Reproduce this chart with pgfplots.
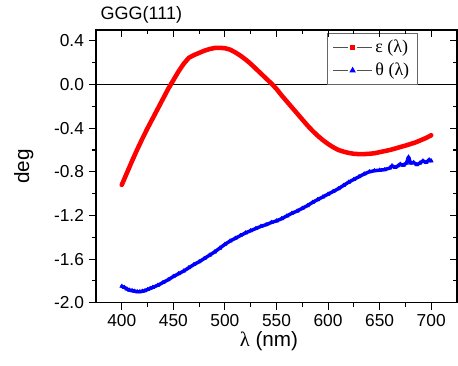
\documentclass[border=0pt]{standalone}
\usepackage{fontspec}
\setmainfont{Liberation Sans}
\newfontfamily\serif{Liberation Serif}
\usepackage{pgfplots}
\pgfplotsset{compat=1.18}
\definecolor{leggray}{RGB}{80,80,80}
\begin{document}
\begin{tikzpicture}
\useasboundingbox (-72pt,-46.75pt) rectangle (271.5pt,227pt);
\pgfplotsset{common/.style={
  scale only axis, width=270.75pt, height=204.5pt,
  xmin=375, xmax=725, ymin=-2.0, ymax=0.5,
  xtick={400,450,...,700}, minor x tick num=1,
  ytick={-2.0,-1.6,-1.2,-0.8,-0.4,0.0,0.4}, minor y tick num=1,
  axis line style={line width=0.9pt},
  major tick length=5.5pt, minor tick length=3pt,
  every tick/.style={black, line width=0.8pt},
  tick label style={font=\fontsize{13}{15}\selectfont},
  /pgf/number format/assume math mode=true,
}}
\begin{axis}[common,
  xtick pos=left, ytick pos=left, tick align=outside,
  yticklabel style={/pgf/number format/fixed, /pgf/number format/fixed zerofill, /pgf/number format/precision=1},
  xticklabel style={/pgf/number format/fixed, /pgf/number format/1000 sep={}},
  title={GGG(111)},
  title style={at={(0,1)}, anchor=base west, yshift=2pt, font=\fontsize{13.5}{15}\selectfont},
  xlabel={{\serif λ} (nm)},
  ylabel={deg},
  xlabel style={at={(axis description cs:0.479,0)}, anchor=center, yshift=-29pt, font=\fontsize{15.5}{17}\selectfont},
  ylabel style={at={(axis description cs:-0.2,0.5)}, anchor=center, font=\fontsize{15.5}{17}\selectfont},
  legend style={at={(0.891,0.989)}, anchor=north east, draw=black!60, line width=0.6pt,
    inner xsep=4pt, inner ysep=3pt, row sep=2pt, font=\serif\fontsize{13.5}{15}\selectfont, cells={anchor=west}},
]
\addplot[black, line width=0.7pt, forget plot] coordinates {(375,0) (725,0)};
\addplot[red, line width=3.4pt, line join=round, line cap=round, forget plot]
coordinates {
(400,-0.92) (405,-0.81) (410,-0.70) (415,-0.595) (420,-0.495) (425,-0.40)
(430,-0.31) (435,-0.22) (440,-0.13) (445,-0.04) (450,0.04) (455,0.12)
(460,0.19) (465,0.245) (470,0.27) (475,0.29) (480,0.31) (485,0.325)
(490,0.335) (495,0.337) (500,0.333) (505,0.32) (510,0.295) (515,0.265)
(520,0.23) (525,0.19) (530,0.145) (535,0.10) (540,0.055) (545,0.01)
(550,-0.04) (555,-0.10) (560,-0.155) (565,-0.21) (570,-0.265) (575,-0.32)
(580,-0.375) (585,-0.425) (590,-0.47) (595,-0.51) (600,-0.545) (605,-0.575)
(610,-0.60) (615,-0.615) (620,-0.627) (625,-0.635) (630,-0.638) (635,-0.638)
(640,-0.635) (645,-0.63) (650,-0.62) (655,-0.61) (660,-0.60) (665,-0.587)
(670,-0.573) (675,-0.56) (680,-0.545) (685,-0.53) (690,-0.51) (695,-0.49)
(700,-0.465)
};
\addplot[blue, line width=2.6pt, line join=round, line cap=round, mark=triangle*, mark size=1.8pt,
  mark options={line width=0.3pt}, forget plot]
coordinates {
(400,-1.85) (402.5,-1.86) (405,-1.875) (407.5,-1.885) (410,-1.89) (412.5,-1.895)
(415,-1.90) (417.5,-1.90) (420,-1.895) (422.5,-1.89) (425,-1.88) (427.5,-1.87)
(430,-1.86) (435,-1.84) (440,-1.815) (445,-1.79) (450,-1.76) (455,-1.735)
(460,-1.71) (465,-1.68) (470,-1.65) (475,-1.625) (480,-1.595) (485,-1.565)
(490,-1.535) (495,-1.50) (500,-1.465) (505,-1.435) (510,-1.41) (515,-1.385)
(520,-1.36) (525,-1.34) (530,-1.32) (535,-1.30) (540,-1.285) (545,-1.265)
(550,-1.25) (555,-1.23) (560,-1.205) (565,-1.18) (570,-1.16) (575,-1.135)
(580,-1.11) (585,-1.08) (590,-1.055) (595,-1.03) (600,-1.005) (605,-0.98)
(610,-0.955) (615,-0.925) (620,-0.895) (625,-0.87) (630,-0.845) (635,-0.82)
(640,-0.80) (645,-0.79) (650,-0.785) (655,-0.78) (660,-0.765) (662,-0.745)
(665,-0.76) (668,-0.745) (670,-0.73) (673,-0.74) (676,-0.72) (678,-0.665)
(680,-0.72) (683,-0.715) (686,-0.735) (689,-0.72) (692,-0.70) (695,-0.715)
(698,-0.69) (700,-0.70)
};
\addlegendimage{legend image code/.code={
    \draw[color=leggray, line width=0.6pt] (0cm,0cm) -- (0.4cm,0cm);
    \draw[color=leggray, line width=0.6pt] (0.64cm,0cm) -- (1.04cm,0cm);
    \fill[red] (0.52cm,0cm) +(-1.5pt,-1.5pt) rectangle +(1.5pt,1.5pt);}}
\addlegendentry{{\serif\fontsize{13.5}{15}\selectfont ε (λ)}}
\addlegendimage{legend image code/.code={
    \draw[color=leggray, line width=0.6pt] (0cm,0cm) -- (0.4cm,0cm);
    \draw[color=leggray, line width=0.6pt] (0.64cm,0cm) -- (1.04cm,0cm);
    \fill[blue] (0.52cm,1.9pt) -- (0.52cm-1.9pt,-1.4pt) -- (0.52cm+1.9pt,-1.4pt) -- cycle;}}
\addlegendentry{{\serif\fontsize{13.5}{15}\selectfont θ (λ)}}
\end{axis}
\begin{axis}[common,
  xtick pos=right, ytick pos=right, tick align=inside,
  xticklabels={}, yticklabels={}]
\end{axis}
\end{tikzpicture}
\end{document}
